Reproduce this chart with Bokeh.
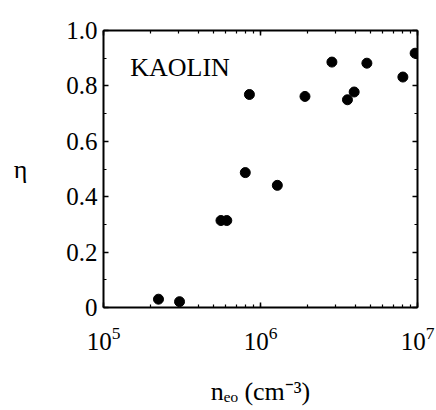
from bokeh.plotting import figure
from bokeh.models import (Label, LogAxis, LinearAxis, LogTicker, SingleIntervalTicker,
                          Range1d, BasicTickFormatter)
from bokeh.embed import file_html
from bokeh.resources import INLINE

# data
n_eo = [2.24e5, 3.05e5, 5.6e5, 6.1e5, 8.0e5, 8.5e5, 1.28e6, 1.92e6, 2.85e6,
        3.58e6, 3.95e6, 4.76e6, 8.07e6, 9.66e6]
eta = [0.030, 0.021, 0.314, 0.314, 0.487, 0.769, 0.441, 0.762, 0.886,
       0.750, 0.778, 0.882, 0.832, 0.918]

y_tick_overrides = {0: "0", 1: "1.0"}
x_title = "nₑₒ (cm⁻³)"
y_title = "η"
panel_text = "KAOLIN"

FONT = "Liberation Serif"

p = figure(width=436, height=410, x_axis_type="log",
           x_range=Range1d(1e5, 1e7), y_range=Range1d(0, 1.0),
           output_backend="svg", toolbar_location=None,
           min_border_left=103, min_border_right=19,
           min_border_top=30, min_border_bottom=103)
p.xgrid.visible = False
p.ygrid.visible = False
p.outline_line_color = None
p.background_fill_color = "white"
p.border_fill_color = "white"

p.scatter(n_eo, eta, size=10, color="black")

xa = p.below[0]
ya = p.left[0]

# axes
xa.ticker = LogTicker(num_minor_ticks=10)
ya.ticker = SingleIntervalTicker(interval=0.2, num_minor_ticks=2)
top = LogAxis(ticker=LogTicker(num_minor_ticks=10), formatter=BasicTickFormatter())
right = LinearAxis(ticker=SingleIntervalTicker(interval=0.2, num_minor_ticks=2))
p.add_layout(top, "above")
p.add_layout(right, "right")

for ax in [xa, ya, top, right]:
    ax.axis_line_width = 2
    ax.axis_line_color = "black"
    ax.major_tick_in = 5
    ax.major_tick_out = 0
    ax.minor_tick_in = 3
    ax.minor_tick_out = 0
    ax.major_tick_line_width = 1.5
    ax.minor_tick_line_width = 1.2
    ax.major_tick_line_color = "black"
    ax.minor_tick_line_color = "black"

for ax in [top, right]:
    ax.major_label_text_font_size = "6px"
    ax.major_label_text_color = None
    ax.major_label_standoff = 0

xa.major_label_text_font = FONT
xa.major_label_text_font_size = "25px"
xa.major_label_text_color = "black"
xa.major_label_standoff = 19
xa.axis_label = x_title
xa.axis_label_text_font = FONT
xa.axis_label_text_font_style = "normal"
xa.axis_label_text_font_size = "26px"
xa.axis_label_text_color = "black"
xa.axis_label_standoff = 24

ya.major_label_overrides = y_tick_overrides
ya.major_label_text_font = FONT
ya.major_label_text_font_size = "25px"
ya.major_label_text_color = "black"
ya.major_label_standoff = 6
ya.axis_label = y_title
ya.axis_label_orientation = "horizontal"
ya.axis_label_text_font = FONT
ya.axis_label_text_font_style = "normal"
ya.axis_label_text_font_size = "26px"
ya.axis_label_text_color = "black"
ya.axis_label_standoff = 36

# panel label
p.add_layout(Label(x=1e5, y=1.0, text=panel_text, x_offset=26.7, y_offset=-37,
                   text_align="left", text_baseline="alphabetic",
                   text_font=FONT, text_font_size="26px", text_color="black"))

open("out.html", "w").write(file_html(p, INLINE))
